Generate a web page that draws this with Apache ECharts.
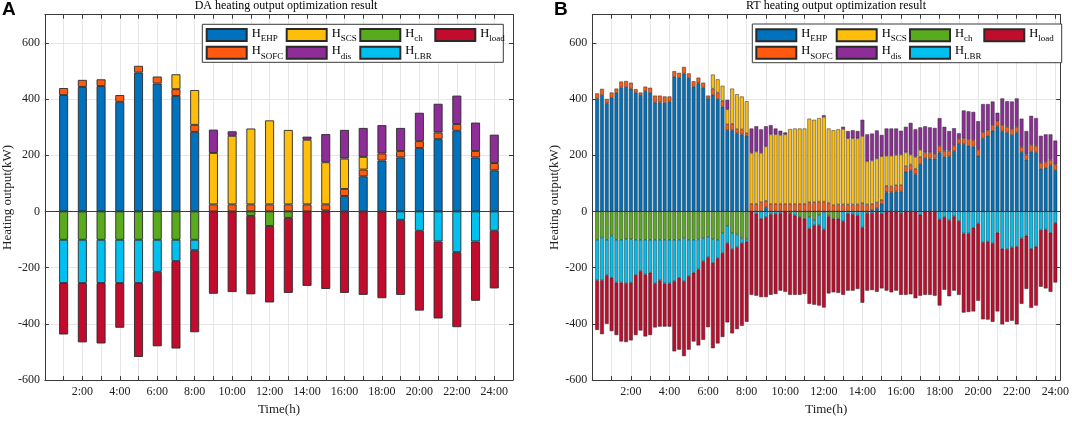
<!DOCTYPE html>
<html>
<head>
<meta charset="utf-8">
<script src="https://cdn.jsdelivr.net/npm/echarts@6/dist/echarts.min.js"></script>
<style>
  html, body { margin: 0; padding: 0; background: #fff; }
  #main { width: 1072px; height: 421px; }
</style>
</head>
<body>
<div id="main"></div>
<script>
// DA (hourly) segments, kW
var DA_EHP  = [414,443,446,390,494,455,411,283,0,0,0,0,0,0,3,55,125,181,192,226,257,287,192,146];
var DA_SOFC = [25,25,24,24,24,25,24,25,25,25,25,25,25,25,22,25,24,25,23,24,24,24,23,26];
var DA_SCS  = [0,0,0,0,0,0,53,124,183,244,270,299,265,230,150,108,45,0,0,0,0,0,0,0];
var DA_DIS  = [0,0,0,0,0,0,0,0,83,16,0,0,0,11,100,102,103,101,82,101,102,101,101,101];
var DA_CH   = [-101,-101,-101,-101,-101,-101,-101,-101,0,0,-16,-52,-23,0,0,0,0,0,0,0,0,0,0,0];
var DA_LBR  = [-154,-154,-154,-154,-154,-114,-76,-37,0,0,0,0,0,0,0,0,0,0,-30,-69,-107,-145,-107,-69];
var DA_LOAD = [-183,-211,-215,-159,-263,-265,-311,-292,-293,-287,-279,-272,-267,-265,-276,-290,-297,-309,-267,-284,-274,-267,-211,-205];

// RT (15 min) segments, kW
var RT_EHP = [
  402,414,385,405,422,441,443,437,423,414,428,422,388,388,386,391,
  479,476,491,475,444,456,441,402,415,400,373,289,289,278,274,269,
  0,0,0,15,0,0,0,0,0,0,0,0,0,0,0,0,
  0,0,0,0,0,0,0,0,0,5,12,27,68,68,71,71,
  141,146,132,169,190,188,188,210,194,196,214,242,239,234,231,198,
  260,269,287,303,285,281,272,281,211,184,213,210,152,155,164,147];
var RT_SOFC = [
  18,22,15,18,15,21,21,21,12,9,16,18,24,24,23,18,
  20,17,23,16,19,20,17,10,22,23,21,21,23,15,18,9,
  27,27,33,23,27,27,27,27,27,27,27,27,33,33,35,35,
  30,22,25,25,25,25,25,30,25,22,20,14,23,21,22,23,
  20,21,20,25,20,22,16,23,22,20,20,16,21,23,23,21,
  21,20,20,18,22,20,21,20,19,18,24,23,20,21,20,20];
var RT_SCS = [
  0,0,0,0,0,0,0,0,0,0,0,0,0,0,0,0,
  0,0,0,0,0,0,0,0,50,47,53,53,125,124,117,114,
  181,186,175,193,247,247,245,247,266,268,268,268,297,293,297,301,
  265,267,267,268,235,235,235,238,153,154,156,155,107,109,108,108,
  49,35,42,25,0,0,0,0,0,0,0,0,0,0,0,0,
  0,0,0,0,0,0,0,0,0,0,0,0,0,0,0,0];
var RT_DIS = [
  0,0,0,0,0,0,0,0,0,0,0,0,0,0,0,0,
  0,0,0,0,0,0,0,0,0,0,0,34,0,0,0,0,
  87,90,84,72,33,21,15,7,0,0,0,0,0,0,0,6,
  0,0,0,8,26,29,26,58,96,96,100,76,97,97,94,85,
  91,113,98,80,93,89,93,99,85,70,62,20,99,99,100,102,
  101,93,84,30,95,91,98,101,100,84,103,99,97,98,90,85];
var RT_CH = [
  -101,-93,-101,-86,-101,-101,-99,-99,-101,-101,-101,-101,-101,-101,-101,-101,
  -101,-101,-96,-101,-101,-100,-96,-90,-99,-101,-78,-52,-78,-82,-96,-98,
  0,0,0,0,0,0,0,0,-6,0,-20,-26,-20,-31,-14,-2,
  -17,-26,-26,0,0,0,0,0,0,0,0,0,0,0,0,0,
  0,0,0,0,0,0,0,0,0,0,0,0,0,0,0,0,
  0,0,0,0,0,0,0,0,0,0,0,0,0,0,0,0];
var RT_LBR = [
  -144,-152,-126,-150,-152,-152,-156,-154,-125,-111,-123,-117,-155,-144,-155,-155,
  -147,-135,-152,-129,-117,-106,-81,-73,-84,-65,-70,-61,-56,-45,-17,-9,
  0,-8,-26,-20,-10,-9,-6,0,0,-14,0,0,-41,-18,-35,-62,
  0,0,0,-35,-8,-10,-14,-57,-6,-6,0,-8,0,0,0,-6,
  0,0,0,-12,0,0,0,-28,-20,-31,-17,-34,-78,-78,-58,-43,
  -110,-107,-113,-76,-133,-134,-128,-125,-96,-86,-133,-125,-66,-64,-76,-41];
var RT_LOAD = [
  -177,-192,-173,-190,-187,-210,-210,-206,-214,-212,-221,-222,-157,-165,-154,-154,
  -250,-256,-267,-262,-245,-271,-280,-249,-304,-304,-299,-282,-300,-292,-294,-286,
  -297,-292,-279,-285,-287,-285,-276,-286,-291,-283,-277,-268,-268,-283,-286,-278,
  -275,-262,-264,-262,-274,-272,-262,-268,-276,-274,-286,-266,-282,-288,-282,-291,
  -297,-295,-309,-288,-297,-297,-300,-307,-259,-271,-265,-263,-282,-280,-298,-275,
  -274,-278,-280,-280,-269,-259,-261,-277,-233,-190,-210,-210,-202,-210,-210,-212];

var NAMES  = ['EHP', 'SOFC', 'SCS', 'dis', 'ch', 'LBR', 'load'];
var COLORS = ['#0072BD', '#FF5A10', '#FFBE0A', '#8E2C98', '#5AAA1E', '#00C0F0', '#C10C2D'];
var LEGEND_ROWS = [['EHP', 'SCS', 'ch', 'load'], ['SOFC', 'dis', 'LBR']];

var serif = 'Liberation Serif';
var myChart = echarts.init(document.getElementById('main'));

// 数值放第一维，这样堆叠作用在y上；0变空值，避免画零高度柱子
function pairs(arr) {
  return arr.map(function (v, i) { return [v === 0 ? null : v, i + 1]; });
}

function makeSeries(sets, xi, yi, bw, bdw) {
  return sets.map(function (arr, k) {
    var s = {
      name: NAMES[k],
      type: 'bar',
      stack: 'p' + xi,
      xAxisIndex: xi,
      yAxisIndex: yi,
      barWidth: bw,
      dimensions: ['h', 't'],
      encode: { x: 't', y: 'h' },
      itemStyle: { color: COLORS[k], borderColor: '#2a2a2a', borderWidth: bdw },
      emphasis: { disabled: true },
      data: pairs(arr)
    };
    if (k === 0) {
      s.markLine = {
        silent: true, symbol: ['none', 'none'], label: { show: false },
        lineStyle: { color: '#3a3a3a', width: 1, type: 'solid' },
        data: [{ yAxis: 0 }]
      };
    }
    return s;
  });
}

function legends(colX, rowY) {
  var out = [];
  LEGEND_ROWS.forEach(function (row, r) {
    row.forEach(function (name, c) {
      out.push({
        data: [name],
        left: colX[c], top: rowY[r],
        padding: 0,
        icon: 'rect',
        itemWidth: 40, itemHeight: 12,
        selectedMode: false,
        formatter: function (n) { return '{h|H}{s|' + n + '}'; },
        textStyle: {
          color: '#000',
          rich: {
            h: { fontFamily: serif, fontSize: 12.5, lineHeight: 16, verticalAlign: 'top', color: '#000' },
            s: { fontFamily: serif, fontSize: 9, lineHeight: 8, verticalAlign: 'bottom', color: '#000' }
          }
        }
      });
    });
  });
  return out;
}

var tickStyle = { show: true, inside: true, length: 4, lineStyle: { color: '#3a3a3a' } };
var lineStyle = { show: true, onZero: false, lineStyle: { color: '#3a3a3a', width: 1 } };
var gridLine = { show: true, lineStyle: { color: '#e6e6e6', width: 1 } };

function xAxes(gi, max, step, fmt) {
  return [{
    type: 'value', gridIndex: gi, min: 0, max: max, interval: step,
    axisLine: lineStyle,
    axisTick: tickStyle,
    axisLabel: { fontFamily: serif, fontSize: 12, color: '#222', margin: 6, formatter: fmt },
    splitLine: gridLine,
    name: 'Time(h)', nameLocation: 'middle', nameGap: 23,
    nameTextStyle: { fontFamily: serif, fontSize: 13, color: '#222' }
  }, {
    type: 'value', gridIndex: gi, min: 0, max: max, interval: step, position: 'top',
    axisLine: lineStyle,
    axisTick: tickStyle,
    axisLabel: { show: false }, splitLine: { show: false }
  }];
}

function yAxes(gi) {
  return [{
    type: 'value', gridIndex: gi, min: -600, max: 700, interval: 200,
    axisLine: lineStyle,
    axisTick: tickStyle,
    axisLabel: {
      fontFamily: serif, fontSize: 12, color: '#222', margin: 5,
      formatter: function (v) { return v > 600 ? '' : v; }
    },
    splitLine: gridLine,
    name: 'Heating output(kW)', nameLocation: 'middle', nameGap: 29,
    nameTextStyle: { fontFamily: serif, fontSize: 13, color: '#222' }
  }, {
    type: 'value', gridIndex: gi, min: -600, max: 700, interval: 200, position: 'right',
    axisLine: lineStyle,
    axisTick: tickStyle,
    axisLabel: { show: false }, splitLine: { show: false }
  }];
}

var daFmt = function (v) { return (v > 0 && v <= 24 && v % 2 === 0) ? v + ':00' : ''; };
var rtFmt = function (v) { return (v > 0 && v <= 96 && v % 8 === 0) ? (v / 4) + ':00' : ''; };

option = {
  animation: false,
  backgroundColor: '#fff',
  title: [
    { text: 'DA heating output optimization result', left: 286, top: 0, padding: 0, textAlign: 'center',
      textStyle: { fontFamily: serif, fontSize: 12, fontWeight: 'normal', color: '#000' } },
    { text: 'RT heating output optimization result', left: 836, top: 0, padding: 0, textAlign: 'center',
      textStyle: { fontFamily: serif, fontSize: 12, fontWeight: 'normal', color: '#000' } },
    { text: 'A', left: 2, top: 0, padding: 0,
      textStyle: { fontFamily: 'Liberation Sans', fontSize: 19, fontWeight: 'bold', color: '#000' } },
    { text: 'B', left: 554, top: 0, padding: 0,
      textStyle: { fontFamily: 'Liberation Sans', fontSize: 19, fontWeight: 'bold', color: '#000' } }
  ],
  grid: [
    { left: 41.7, top: 14.7, width: 471.3, height: 371 },
    { left: 592.3, top: 14.7, width: 469.7, height: 371 }
  ],
  xAxis: xAxes(0, 25, 1, daFmt).concat(xAxes(1, 97, 4, rtFmt)),
  yAxis: yAxes(0).concat(yAxes(1)),
  legend: legends([205.7, 285.7, 359.3, 434.3], [27, 44.7])
    .concat(legends([755.3, 835.7, 909, 983.3], [27.3, 44.7])),
  graphic: [
    { type: 'rect', z: 3, shape: { x: 202.3, y: 24.3, width: 301, height: 38 },
      style: { fill: '#fff', stroke: '#3a3a3a', lineWidth: 1 } },
    { type: 'rect', z: 3, shape: { x: 752.3, y: 24, width: 309.4, height: 38.7 },
      style: { fill: '#fff', stroke: '#3a3a3a', lineWidth: 1 } }
  ],
  series: makeSeries([DA_EHP, DA_SOFC, DA_SCS, DA_DIS, DA_CH, DA_LBR, DA_LOAD], 0, 0, 9, 0.9)
    .concat(makeSeries([RT_EHP, RT_SOFC, RT_SCS, RT_DIS, RT_CH, RT_LBR, RT_LOAD], 2, 2, 3.8, 0.5))
};
myChart.setOption(option);
</script>
</body>
</html>
